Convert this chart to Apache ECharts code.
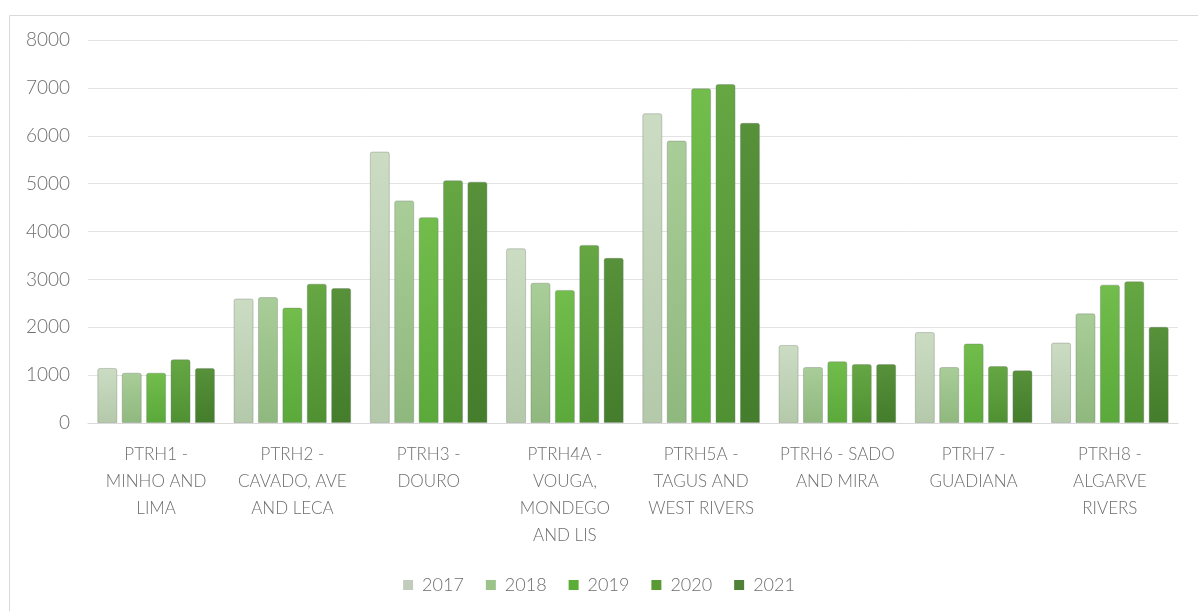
<!DOCTYPE html>
<html>
<head>
<meta charset="utf-8">
<script src="https://cdn.jsdelivr.net/npm/echarts@6/dist/echarts.min.js"></script>
<style>
  html, body { margin: 0; padding: 0; background: #ffffff; }
  #chart { width: 1198px; height: 611px; }
</style>
</head>
<body>
<div id="chart"></div>
<script>
// River basin regions (x-axis categories, wrapped as printed)
const regions = [
  'PTRH1 -\nMINHO AND\nLIMA',
  'PTRH2 -\nCAVADO, AVE\nAND LECA',
  'PTRH3 -\nDOURO',
  'PTRH4A -\nVOUGA,\nMONDEGO\nAND LIS',
  'PTRH5A -\nTAGUS AND\nWEST RIVERS',
  'PTRH6 - SADO\nAND MIRA',
  'PTRH7 -\nGUADIANA',
  'PTRH8 -\nALGARVE\nRIVERS'
];

const years = ['2017', '2018', '2019', '2020', '2021'];

// Yearly values per region
const values2017 = [1150, 2600, 5670, 3650, 6470, 1630, 1900, 1680];
const values2018 = [1050, 2630, 4650, 2930, 5900, 1170, 1170, 2290];
const values2019 = [1050, 2410, 4300, 2780, 6990, 1290, 1660, 2890];
const values2020 = [1330, 2910, 5070, 3720, 7080, 1230, 1190, 2960];
const values2021 = [1150, 2820, 5040, 3450, 6270, 1230, 1100, 2010];

const yTicks = { min: 0, max: 8000, interval: 1000 };

const seriesValues = [values2017, values2018, values2019, values2020, values2021];

// Fill colours per year: [top, bottom] of a soft vertical gradient
const palette = [
  ['#cbdcc3', '#b4c9aa'],
  ['#a9cd98', '#8fb87e'],
  ['#72bd4c', '#5aa93a'],
  ['#66a744', '#4f9132'],
  ['#57913a', '#447d2b']
];
const legendColors = ['#c2ccbc', '#9cc48a', '#5cad37', '#5a9a35', '#4f8238'];

const chart = echarts.init(document.getElementById('chart'), null, { renderer: 'canvas' });

const series = years.map((y, i) => ({
  name: y,
  type: 'bar',
  data: seriesValues[i],
  barWidth: 20,
  barGap: '22%',
  color: legendColors[i],
  itemStyle: {
    color: new echarts.graphic.LinearGradient(0, 0, 0, 1, [
      { offset: 0, color: palette[i][0] },
      { offset: 1, color: palette[i][1] }
    ]),
    borderColor: 'rgba(110,120,105,0.35)',
    borderWidth: 1,
    borderRadius: [2, 2, 0, 0]
  }
}));

chart.setOption({
  animation: false,
  backgroundColor: '#ffffff',
  textStyle: { fontFamily: 'Lato, "Open Sans", sans-serif' },
  graphic: [{
    type: 'rect',
    left: 7,
    top: 13,
    shape: { width: 1200, height: 610 },
    style: { fill: 'none', stroke: '#d9d9d9', lineWidth: 1 },
    silent: true,
    z: -10
  }],
  grid: { left: 88, right: 20, top: 40, bottom: 188, containLabel: false },
  legend: {
    data: years.map((y, i) => ({ name: y, itemStyle: { color: legendColors[i], borderWidth: 0 } })),
    bottom: 12,
    left: 'center',
    itemWidth: 10,
    itemHeight: 10,
    itemGap: 22,
    icon: 'rect',
    textStyle: { color: '#6e6e6e', fontSize: 18, fontWeight: 300, padding: [0, 0, 0, 4] }
  },
  xAxis: {
    type: 'category',
    data: regions,
    axisLine: { lineStyle: { color: '#d9d9d9', width: 1 } },
    axisTick: { show: false },
    axisLabel: {
      interval: 0,
      color: '#6e6e6e',
      fontSize: 17,
      fontWeight: 300,
      lineHeight: 27,
      margin: 18,
      align: 'center'
    }
  },
  yAxis: {
    type: 'value',
    min: yTicks.min,
    max: yTicks.max,
    interval: yTicks.interval,
    axisLine: { show: false },
    axisTick: { show: false },
    splitLine: { lineStyle: { color: '#e3e3e3', width: 1 } },
    axisLabel: {
      color: '#6e6e6e',
      fontSize: 19,
      fontWeight: 300,
      margin: 18,
      formatter: v => String(v)
    }
  },
  series: series
});
</script>
</body>
</html>
